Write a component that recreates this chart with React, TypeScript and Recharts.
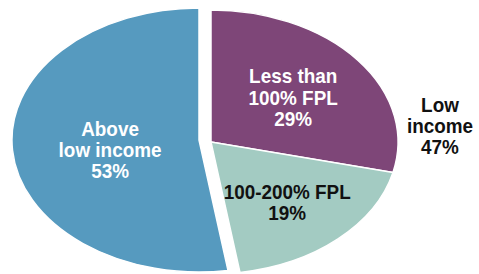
import { PieChart, Pie, Cell } from "recharts";

// ---- data ----
const categories = ["Less than 100% FPL", "100-200% FPL", "Above low income"];
const shares = [29, 19, 53];
const labelLines = [
  ["Less than", "100% FPL", "29%"],
  ["100-200% FPL", "19%"],
  ["Above", "low income", "53%"],
];
const isLowIncome = [true, true, false];
const groupLabel = ["Low", "income", "47%"];

// ---- styling ----
const COLORS = ["#7E4678", "#A3CBC2", "#569ABF"];
const TEXT_COLORS = ["#ffffff", "#111111", "#ffffff"];
const FONT = "'Liberation Sans', Arial, sans-serif";
const FONT_SIZE = 21;
const NARROW = 0.9; // condensed look
const LINE_H = 21.2;
const CAP = 15;
const ASPECT = 1.417; // horizontal stretch of the pie
const EXPLODE = { dx: 12, dy: 2 };
const PIE_START = 90;
const LABEL_RADIUS = [0.56, 0.6, 0.477];
const LABEL_NUDGE = [1, 2, 4.5];
const GROUP_RADIUS = 1.228;
const GROUP_NUDGE = -4;

const chartData = categories.map((name, i) => ({ name, value: shares[i] }));

function ellipseSector(cx: number, cy: number, rx: number, ry: number, a1: number, a2: number) {
  const rad = Math.PI / 180;
  const x1 = cx + rx * Math.cos(a1 * rad);
  const y1 = cy - ry * Math.sin(a1 * rad);
  const x2 = cx + rx * Math.cos(a2 * rad);
  const y2 = cy - ry * Math.sin(a2 * rad);
  const large = Math.abs(a1 - a2) > 180 ? 1 : 0;
  const sweep = a1 > a2 ? 1 : 0;
  return `M${cx},${cy} L${x1},${y1} A${rx},${ry} 0 ${large} ${sweep} ${x2},${y2} Z`;
}

function offsetFor(index: number) {
  return isLowIncome[index] ? EXPLODE : { dx: 0, dy: 0 };
}

function EllipseSlice(props: any) {
  const { cx, cy, outerRadius, startAngle, endAngle, fill, index } = props;
  const idx = index ?? categories.indexOf(props.name ?? props.payload?.name);
  const off = offsetFor(idx);
  return (
    <path
      d={ellipseSector(cx + off.dx, cy + off.dy, outerRadius * ASPECT, outerRadius, startAngle, endAngle)}
      fill={fill}
      stroke="#ffffff"
      strokeWidth={1.5}
      strokeLinejoin="round"
    />
  );
}

function TextBlock({ x, y, lines, color }: { x: number; y: number; lines: string[]; color: string }) {
  const first = y - ((lines.length - 1) * LINE_H) / 2 + CAP / 2;
  return (
    <text
      transform={`translate(${x},${first}) scale(${NARROW},1)`}
      textAnchor="middle"
      fill={color}
      fontFamily={FONT}
      fontWeight="bold"
      fontSize={FONT_SIZE}
    >
      {lines.map((l, i) => (
        <tspan key={i} x={0} y={i * LINE_H}>
          {l}
        </tspan>
      ))}
    </text>
  );
}

function renderLabel(p: any) {
  const { cx, cy, midAngle, outerRadius, index, endAngle } = p;
  const off = offsetFor(index);
  const rad = (midAngle * Math.PI) / 180;
  const f = LABEL_RADIUS[index];
  const x = cx + off.dx + f * outerRadius * ASPECT * Math.cos(rad);
  const y = cy + off.dy - f * outerRadius * Math.sin(rad) + LABEL_NUDGE[index];

  let group = null;
  if (index === 1) {
    // group label for the exploded "low income" part
    const gm = ((PIE_START + endAngle) / 2) * (Math.PI / 180);
    const gx = cx + off.dx + GROUP_RADIUS * outerRadius * ASPECT * Math.cos(gm);
    const gy = cy + off.dy - GROUP_RADIUS * outerRadius * Math.sin(gm) + GROUP_NUDGE;
    group = <TextBlock x={gx} y={gy} lines={groupLabel} color="#111111" />;
  }

  return (
    <g key={`label-${index}`}>
      <TextBlock x={x} y={y} lines={labelLines[index]} color={TEXT_COLORS[index]} />
      {group}
    </g>
  );
}

export default function App() {
  return (
    <div style={{ width: 479, height: 274, background: "#ffffff" }}>
      <style>{`body{margin:0}`}</style>
      <PieChart width={479} height={274} margin={{ top: 0, right: 0, bottom: 0, left: 0 }}>
        <Pie
          data={chartData}
          dataKey="value"
          nameKey="name"
          cx={199}
          cy={140}
          outerRadius={132}
          startAngle={PIE_START}
          endAngle={PIE_START - 360}
          stroke="#ffffff"
          isAnimationActive={false}
          shape={EllipseSlice}
          label={renderLabel}
          labelLine={false}
        >
          {chartData.map((d, i) => (
            <Cell key={d.name} fill={COLORS[i]} />
          ))}
        </Pie>
      </PieChart>
    </div>
  );
}
